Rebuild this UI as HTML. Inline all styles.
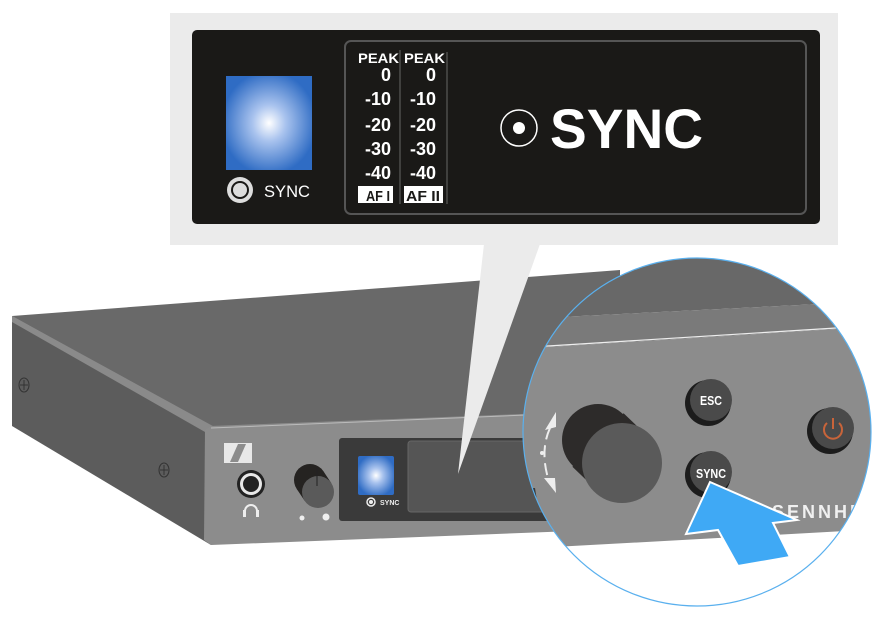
<!DOCTYPE html>
<html><head><meta charset="utf-8"><style>
html,body{margin:0;padding:0;background:#fff;width:880px;height:621px;overflow:hidden}
svg{display:block}
text{font-family:"Liberation Sans",Arial,sans-serif}
</style></head><body>
<svg width="880" height="621" viewBox="0 0 880 621" xmlns="http://www.w3.org/2000/svg">
<defs>
<radialGradient id="bg1" cx="0.5" cy="0.5" r="0.55">
<stop offset="0" stop-color="#ffffff"/><stop offset="0.35" stop-color="#a9c3ee"/><stop offset="1" stop-color="#2f6cc4"/>
</radialGradient>
<clipPath id="cc"><circle cx="697" cy="432" r="174"/></clipPath>
</defs>

<!-- device -->
<polygon points="12,316 620,270 620,420 211,427" fill="#696969"/>
<polygon points="12,316 211,427 211,545 12,426" fill="#5c5c5c"/>
<polygon points="12,316 211,425 224,432 205,432 12,322" fill="#8a8a8a"/>
<polygon points="205,430 211,426 600,411 600,530 211,545 204,540" fill="#8c8c8c"/>
<line x1="211" y1="428" x2="600" y2="412" stroke="#bbb" stroke-width="1"/>
<ellipse cx="24" cy="385" rx="5" ry="7" fill="none" stroke="#333" stroke-width="1"/>
<path d="M24 380v10M20 385h8" stroke="#333" stroke-width="1"/>
<ellipse cx="164" cy="470" rx="5" ry="7" fill="none" stroke="#333" stroke-width="1"/>
<path d="M164 465v10M160 470h8" stroke="#333" stroke-width="1"/>
<!-- logo -->
<rect x="224" y="443" width="28" height="20" fill="#e8e8e8"/>
<path d="M230 462 L238 444 L246 444 L238 462Z" fill="#8c8c8c"/>
<!-- jack -->
<circle cx="251" cy="484" r="14" fill="#222"/>
<circle cx="251" cy="484" r="11" fill="#e8e8e8"/>
<circle cx="251" cy="484" r="8" fill="#222"/>
<path d="M245 517v-6a6 6 0 0 1 12 0v6" fill="none" stroke="#eee" stroke-width="2"/>
<rect x="243" y="510" width="3" height="7" fill="#eee"/><rect x="256" y="510" width="3" height="7" fill="#eee"/>
<!-- knob -->
<line x1="310" y1="480" x2="318" y2="492" stroke="#252321" stroke-width="32"/>
<circle cx="310" cy="480" r="16" fill="#252321"/>
<circle cx="318" cy="492" r="16" fill="#5a5a5a"/>
<line x1="317" y1="468" x2="317" y2="486" stroke="#222" stroke-width="1"/>
<circle cx="302" cy="518" r="2.5" fill="#eee"/>
<circle cx="326" cy="517" r="3.5" fill="#eee"/>
<!-- display -->
<rect x="339" y="438" width="260" height="83" rx="3" fill="#3a3a3a"/>
<rect x="358" y="456" width="36" height="39" rx="2" fill="url(#bg1)"/>
<circle cx="371" cy="502" r="4" fill="none" stroke="#eee" stroke-width="1.5"/>
<circle cx="371" cy="502" r="2" fill="#eee"/>
<text x="380" y="505" font-size="7" font-weight="bold" fill="#eee">SYNC</text>
<rect x="408" y="441" width="200" height="71" rx="3" fill="#555" stroke="#666"/>

<!-- callout -->
<rect x="170" y="13" width="668" height="232" fill="#ebebeb"/>
<polygon points="484,244 540,244 458,474" fill="#ebebeb"/>
<rect x="192" y="30" width="628" height="194" rx="5" fill="#1a1917"/>
<rect x="345" y="41" width="461" height="173" rx="6" fill="none" stroke="#555" stroke-width="2"/>
<rect x="226" y="76" width="86" height="94" fill="url(#bg1)"/>
<circle cx="240" cy="190" r="13" fill="#ddd"/>
<circle cx="240" cy="190" r="9" fill="#1a1917"/>
<circle cx="240" cy="190" r="7" fill="#ddd"/>
<text x="264" y="197" font-size="17" fill="#fff" textLength="46" lengthAdjust="spacingAndGlyphs">SYNC</text>
<line x1="400" y1="50" x2="400" y2="204" stroke="#666"/>
<line x1="447" y1="52" x2="447" y2="204" stroke="#666"/>
<g font-weight="bold" fill="#fff" text-anchor="end">
<text x="399" y="63" font-size="14" textLength="41" lengthAdjust="spacingAndGlyphs">PEAK</text><text x="445" y="63" font-size="14" textLength="41" lengthAdjust="spacingAndGlyphs">PEAK</text>
<g font-size="18">
<text x="391" y="81">0</text><text x="436" y="81">0</text>
<text x="391" y="105" textLength="26" lengthAdjust="spacingAndGlyphs">-10</text><text x="436" y="105" textLength="26" lengthAdjust="spacingAndGlyphs">-10</text>
<text x="391" y="131" textLength="26" lengthAdjust="spacingAndGlyphs">-20</text><text x="436" y="131" textLength="26" lengthAdjust="spacingAndGlyphs">-20</text>
<text x="391" y="155" textLength="26" lengthAdjust="spacingAndGlyphs">-30</text><text x="436" y="155" textLength="26" lengthAdjust="spacingAndGlyphs">-30</text>
<text x="391" y="179" textLength="26" lengthAdjust="spacingAndGlyphs">-40</text><text x="436" y="179" textLength="26" lengthAdjust="spacingAndGlyphs">-40</text>
</g></g>
<rect x="358" y="186" width="35" height="17" fill="#fff"/>
<rect x="404" y="186" width="39" height="17" fill="#fff"/>
<text x="366" y="201" font-size="15" font-weight="bold" fill="#1a1917" textLength="24" lengthAdjust="spacingAndGlyphs">AF I</text>
<text x="406" y="201" font-size="15" font-weight="bold" fill="#1a1917" textLength="34" lengthAdjust="spacingAndGlyphs">AF II</text>
<circle cx="519" cy="128" r="18" fill="none" stroke="#fff" stroke-width="1.5"/>
<circle cx="519" cy="128" r="6" fill="#fff"/>
<text x="550" y="148" font-size="56" font-weight="bold" fill="#fff" textLength="153" lengthAdjust="spacingAndGlyphs">SYNC</text>

<!-- magnifier -->
<circle cx="697" cy="432" r="174" fill="#fff"/>
<g clip-path="url(#cc)">
<polygon points="500,250 900,250 900,300 500,320" fill="#686868"/>
<polygon points="500,320 900,300 900,325 500,350" fill="#7a7a7a"/>
<polygon points="500,350 900,325 900,528 500,550" fill="#8c8c8c"/>
<line x1="500" y1="349" x2="900" y2="324" stroke="#eee" stroke-width="1.2"/>
<polygon points="500,490 535,488 540,520 500,525" fill="#3a3a3a"/>
<line x1="598" y1="440" x2="622" y2="463" stroke="#2d2b2a" stroke-width="74"/>
<circle cx="598" cy="440" r="36" fill="#2d2b2a"/>
<circle cx="622" cy="463" r="40" fill="#5a5a5a"/>
<path d="M550 428 Q540 450 548 478" fill="none" stroke="#eee" stroke-width="2" stroke-dasharray="12 6"/>
<polygon points="556,412 545,430 556,427" fill="#eee"/>
<polygon points="544,478 556,493 555,478" fill="#eee"/>
<circle cx="542" cy="453" r="2" fill="#eee"/>
<circle cx="708" cy="403" r="23" fill="#1c1c1c"/>
<circle cx="711" cy="400" r="21" fill="#4a4a4a"/>
<text x="711" y="405" font-size="13" font-weight="bold" fill="#fff" text-anchor="middle" textLength="22" lengthAdjust="spacingAndGlyphs">ESC</text>
<circle cx="708" cy="475" r="23" fill="#1c1c1c"/>
<circle cx="711" cy="472" r="21" fill="#4a4a4a"/>
<text x="711" y="478" font-size="13" font-weight="bold" fill="#fff" text-anchor="middle" textLength="30" lengthAdjust="spacingAndGlyphs">SYNC</text>
<circle cx="830" cy="431" r="23" fill="#1c1c1c"/>
<circle cx="833" cy="428" r="21" fill="#4a4a4a"/>
<path d="M827 423 a9 9 0 1 0 12 0" fill="none" stroke="#c8643a" stroke-width="2"/>
<line x1="833" y1="418" x2="833" y2="429" stroke="#c8643a" stroke-width="2"/>
<text x="772" y="518" font-size="18" font-weight="bold" fill="#f0f0f0" letter-spacing="3">SENNHEISER</text>
<polygon points="710,482 686,534 718,530 738,566 790,557 773,523 797,520" fill="#3fa9f5" stroke="#fff" stroke-width="2"/>
</g>
<circle cx="697" cy="432" r="174" fill="none" stroke="#5ab0ee" stroke-width="1.2"/>
</svg>
</body></html>
